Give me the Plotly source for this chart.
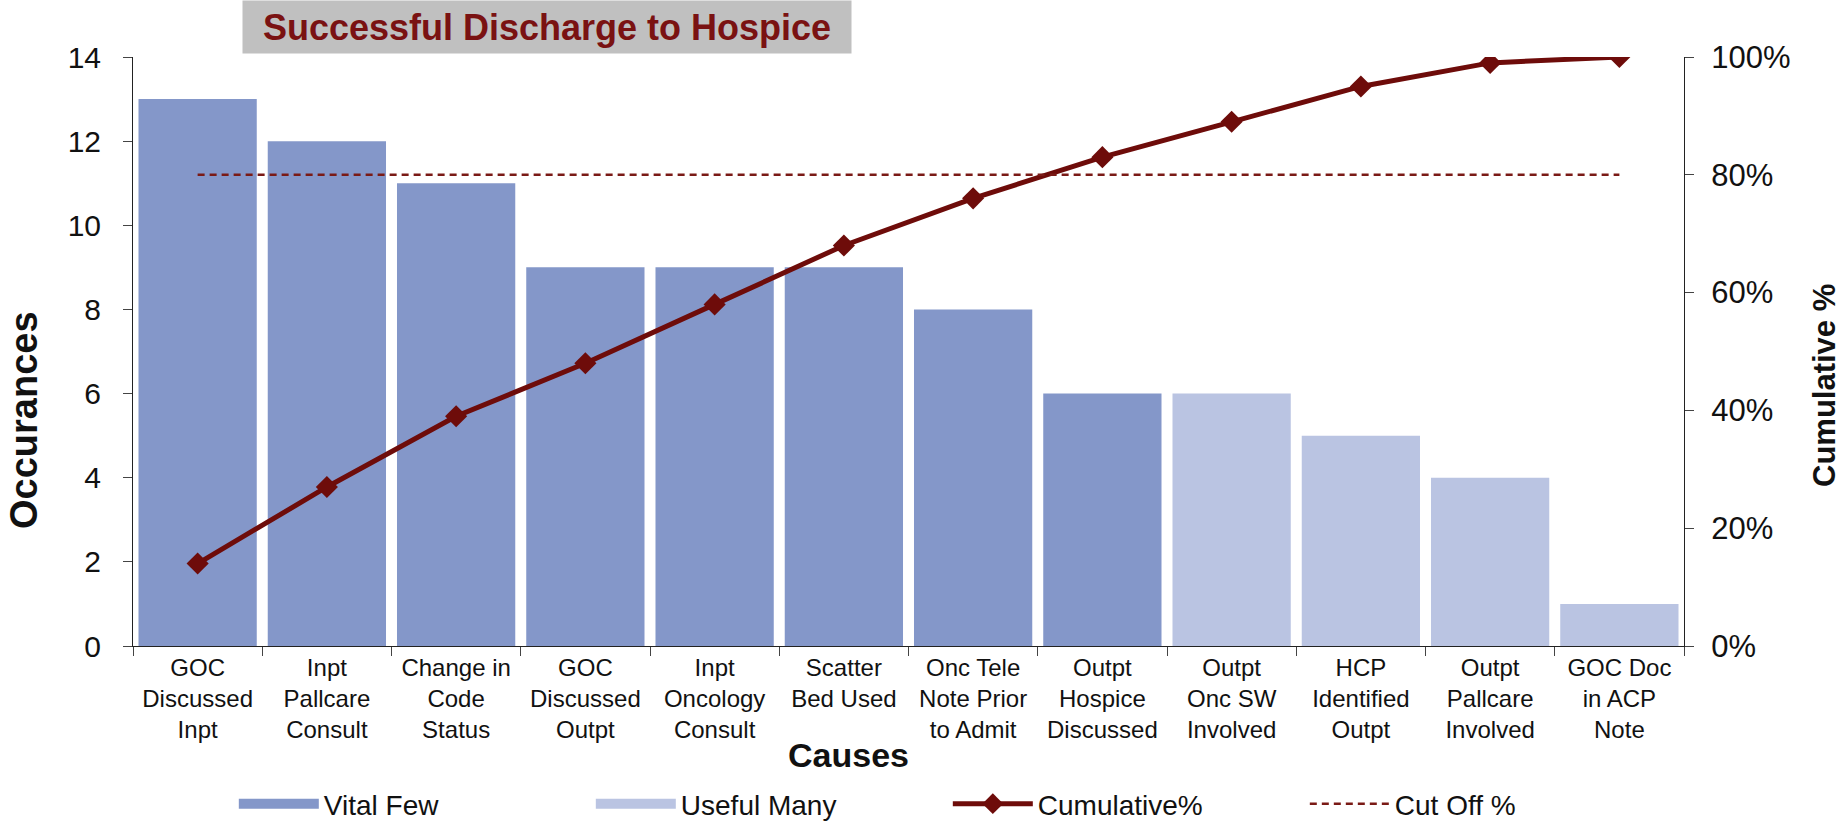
import plotly.graph_objects as go

categories = [
    "GOC<br>Discussed<br>Inpt", "Inpt<br>Pallcare<br>Consult", "Change in<br>Code<br>Status",
    "GOC<br>Discussed<br>Outpt", "Inpt<br>Oncology<br>Consult", "Scatter<br>Bed Used",
    "Onc Tele<br>Note Prior<br>to Admit", "Outpt<br>Hospice<br>Discussed", "Outpt<br>Onc SW<br>Involved",
    "HCP<br>Identified<br>Outpt", "Outpt<br>Pallcare<br>Involved", "GOC Doc<br>in ACP<br>Note",
]
occurrences = [13, 12, 11, 9, 9, 9, 8, 6, 6, 5, 4, 1]
group = ["Vital Few"] * 8 + ["Useful Many"] * 4
cumulative_pct = [14, 27, 39, 48, 58, 68, 76, 83, 89, 95, 99, 100]
cutoff_pct = [80] * 12

FONT = "Liberation Sans, Arial, sans-serif"
VITAL = "#8497C9"
USEFUL = "#BAC4E2"
MAROON = "#6E0C0A"

# plot area in page pixels
L, R, T, B = 133, 1684, 57, 646
PW, PH = R - L, B - T

fig = go.Figure()
for name, color in [("Vital Few", VITAL), ("Useful Many", USEFUL)]:
    xs = [c for c, g in zip(categories, group) if g == name]
    ys = [v for v, g in zip(occurrences, group) if g == name]
    fig.add_trace(go.Bar(x=xs, y=ys, name=name, legendgroup=name, showlegend=False,
                         marker=dict(color=color, line_width=0)))
    # legend swatch (wide rectangle like the original legend)
    fig.add_trace(go.Scatter(x=[None], y=[None], name=name, legendgroup=name, mode="lines",
                             line=dict(color=color, width=16)))

fig.add_trace(go.Scatter(
    x=categories, y=cumulative_pct, name="Cumulative%", yaxis="y2", mode="lines+markers",
    line=dict(color=MAROON, width=5), marker=dict(symbol="diamond", size=17, color=MAROON),
))
fig.add_trace(go.Scatter(
    x=categories, y=cutoff_pct, name="Cut Off %", yaxis="y2", mode="lines",
    line=dict(color="#7A1A16", width=2.5, dash="7px,5px"),
))

fig.update_layout(
    width=1845, height=822,
    margin=dict(l=L, r=1845 - R, t=T, b=822 - B),
    paper_bgcolor="white", plot_bgcolor="white",
    font=dict(family=FONT, color="#111111"),
    barmode="overlay", bargap=0.085,
    showlegend=True,
    legend=dict(orientation="h", x=0.065, xanchor="left", yref="container",
                y=(822 - 804) / 822, yanchor="middle",
                font=dict(size=28, family=FONT), entrywidth=262, itemwidth=80,
                traceorder="normal"),
    xaxis=dict(
        categoryorder="array", categoryarray=categories,
        showline=True, linecolor="#222", linewidth=1,
        ticks="outside", tickson="boundaries", ticklen=9, tickcolor="#444",
        tickfont=dict(size=24, family=FONT, color="#111"), tickangle=0,
        range=[-0.5, 11.5],
    ),
    yaxis=dict(
        range=[0, 14], dtick=2, showgrid=False, zeroline=False,
        showline=True, linecolor="#222", linewidth=1,
        ticks="outside", ticklen=9, tickcolor="#444",
        tickfont=dict(size=30, family=FONT, color="#111"), ticklabelstandoff=16,
    ),
    yaxis2=dict(
        range=[0, 100], dtick=20, ticksuffix="%", overlaying="y", side="right",
        showgrid=False, zeroline=False, showline=True, linecolor="#222", linewidth=1,
        ticks="outside", ticklen=9, tickcolor="#444",
        tickfont=dict(size=31, family=FONT, color="#111"), ticklabelstandoff=11,
    ),
    annotations=[
        dict(text="<b>Successful Discharge to Hospice</b>", xref="paper", yref="paper",
             x=(547 - L) / PW, y=1 + T / PH, yanchor="top", xanchor="center",
             showarrow=False, width=600, height=44, borderpad=4,
             font=dict(size=36, color="#7A1212", family=FONT), bgcolor="#C0C0C0"),
        dict(text="<b>Occurances</b>", xref="paper", yref="paper", x=(24 - L) / PW,
             y=(B - 420) / PH, xanchor="center", yanchor="middle", textangle=-90,
             showarrow=False, font=dict(size=38, family=FONT, color="#111")),
        dict(text="<b>Cumulative %</b>", xref="paper", yref="paper", x=(1825 - L) / PW,
             y=(B - 385) / PH, xanchor="center", yanchor="middle", textangle=-90,
             showarrow=False, font=dict(size=31, family=FONT, color="#111")),
        dict(text="<b>Causes</b>", xref="paper", yref="paper", x=(848 - L) / PW,
             y=-(755 - B) / PH, xanchor="center", yanchor="middle", showarrow=False,
             font=dict(size=34, family=FONT, color="#111")),
    ],
)

fig.write_html("out.html", config={"displayModeBar": False},
               post_script="document.body.style.margin='0';")
